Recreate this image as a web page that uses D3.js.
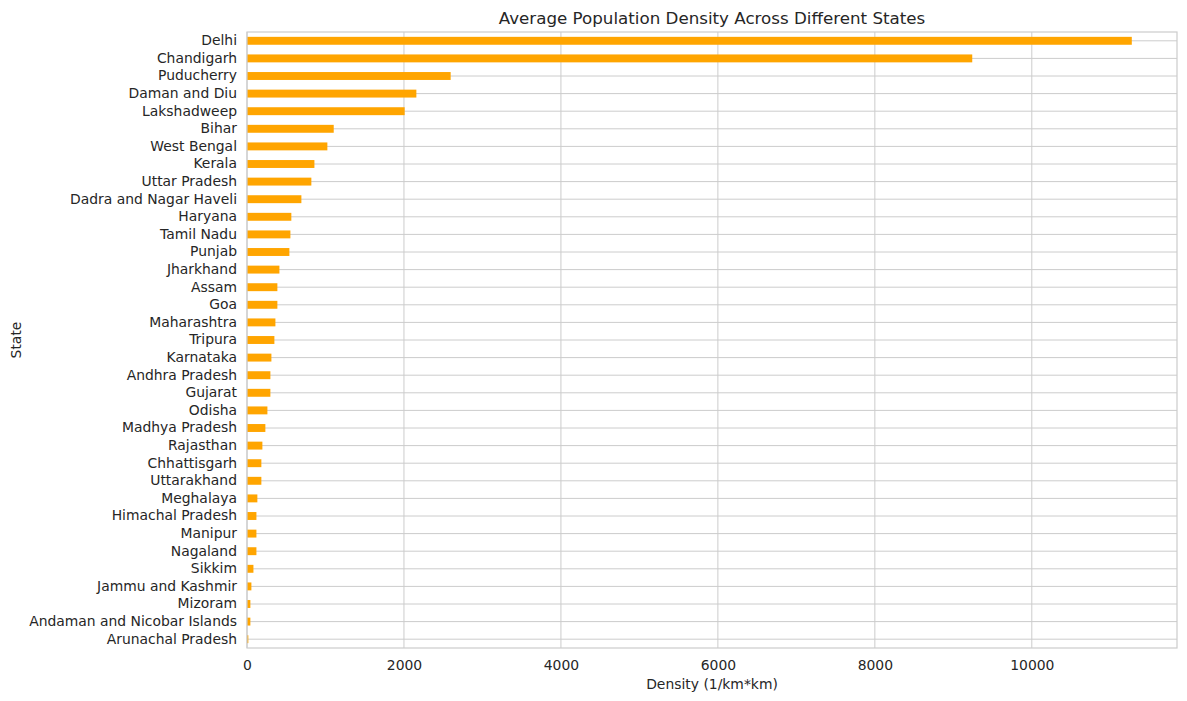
<!DOCTYPE html>
<html>
<head>
<meta charset="utf-8">
<script src="https://cdn.jsdelivr.net/npm/d3@7"></script>
<style>
  body { margin: 0; background: #fff; }
  svg text { font-family: "DejaVu Sans", sans-serif; fill: #262626; }
</style>
</head>
<body>
<div id="chart"></div>
<script>
// states, ordered top to bottom as drawn
var states = ['Delhi', 'Chandigarh', 'Puducherry', 'Daman and Diu', 'Lakshadweep', 'Bihar',
  'West Bengal', 'Kerala', 'Uttar Pradesh', 'Dadra and Nagar Haveli', 'Haryana', 'Tamil Nadu',
  'Punjab', 'Jharkhand', 'Assam', 'Goa', 'Maharashtra', 'Tripura', 'Karnataka', 'Andhra Pradesh',
  'Gujarat', 'Odisha', 'Madhya Pradesh', 'Rajasthan', 'Chhattisgarh', 'Uttarakhand', 'Meghalaya',
  'Himachal Pradesh', 'Manipur', 'Nagaland', 'Sikkim', 'Jammu and Kashmir', 'Mizoram',
  'Andaman and Nicobar Islands', 'Arunachal Pradesh']

// average density (1/km*km)
var density = [11274, 9241, 2595, 2158, 2009, 1105,
  1024, 859, 820, 693, 565, 553,
  540, 413, 387, 387, 362, 349, 311, 298,
  298, 260, 234, 196, 183, 183, 132,
  120, 120, 120, 82, 56, 43,
  43, 17]

var xTicks = [0, 2000, 4000, 6000, 8000, 10000]

var data = states.map(function (s, i) { return {state: s, value: density[i]} })

var W = 1187, H = 701
var margin = {top: 32, right: 10, bottom: 53, left: 247}
var width = W - margin.left - margin.right
var height = H - margin.top - margin.bottom

var svg = d3.select('#chart').append('svg')
  .attr('width', W)
  .attr('height', H)

var g = svg.append('g')
  .attr('transform', 'translate(' + margin.left + ',' + margin.top + ')')

var x = d3.scaleLinear()
  .domain([0, 11850])
  .range([0, width])

var y = d3.scaleBand()
  .domain(states)
  .range([0, height])
  .paddingInner(0.55)
  .paddingOuter(0.275)

// vertical grid
g.append('g')
  .selectAll('line')
  .data(xTicks)
  .enter().append('line')
  .attr('x1', function (d) { return x(d) })
  .attr('x2', function (d) { return x(d) })
  .attr('y1', 0)
  .attr('y2', height)
  .attr('stroke', '#cccccc')
  .attr('stroke-width', 1)

// horizontal grid at category centres
g.append('g')
  .selectAll('line')
  .data(states)
  .enter().append('line')
  .attr('x1', 0)
  .attr('x2', width)
  .attr('y1', function (d) { return y(d) + y.bandwidth() / 2 })
  .attr('y2', function (d) { return y(d) + y.bandwidth() / 2 })
  .attr('stroke', '#cccccc')
  .attr('stroke-width', 1)

g.append('g')
  .selectAll('rect')
  .data(data)
  .enter().append('rect')
  .attr('x', x(0))
  .attr('y', function (d) { return y(d.state) })
  .attr('width', function (d) { return x(d.value) - x(0) })
  .attr('height', y.bandwidth())
  .attr('fill', '#ffa500')

// frame
g.append('rect')
  .attr('width', width)
  .attr('height', height)
  .attr('fill', 'none')
  .attr('stroke', '#cccccc')
  .attr('stroke-width', 1.2)

var xAxis = g.append('g')
  .attr('transform', 'translate(0,' + height + ')')
  .call(d3.axisBottom(x).tickValues(xTicks).tickFormat(d3.format('d')).tickSize(0).tickPadding(12))
xAxis.select('.domain').remove()
xAxis.selectAll('text').attr('font-size', 13.9).attr('fill', '#262626')

var yAxis = g.append('g')
  .call(d3.axisLeft(y).tickSize(0).tickPadding(10))
yAxis.select('.domain').remove()
yAxis.selectAll('text').attr('font-size', 13.9).attr('fill', '#262626')

svg.append('text')
  .attr('x', margin.left + width / 2)
  .attr('y', 24)
  .attr('text-anchor', 'middle')
  .attr('font-size', 16.7)
  .text('Average Population Density Across Different States')

svg.append('text')
  .attr('x', margin.left + width / 2)
  .attr('y', 689)
  .attr('text-anchor', 'middle')
  .attr('font-size', 13.9)
  .text('Density (1/km*km)')

svg.append('text')
  .attr('transform', 'translate(21,' + (margin.top + height / 2) + ') rotate(-90)')
  .attr('text-anchor', 'middle')
  .attr('font-size', 13.9)
  .text('State')
</script>
</body>
</html>
